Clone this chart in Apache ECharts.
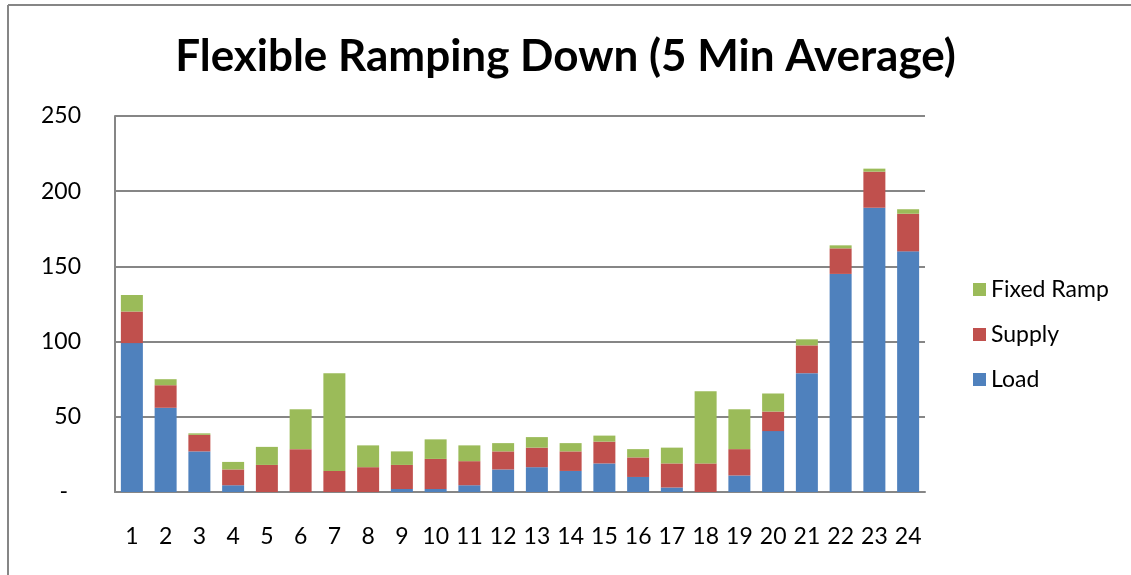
<!DOCTYPE html>
<html>
<head>
<meta charset="utf-8">
<title>Flexible Ramping Down</title>
<script src="https://cdn.jsdelivr.net/npm/echarts@6/dist/echarts.min.js"></script>
<style>
  html, body { margin: 0; padding: 0; background: #fff; }
  #chart { width: 1131px; height: 575px; }
</style>
</head>
<body>
<div id="chart"></div>
<script>
// hours 1..24
const hours = ['1','2','3','4','5','6','7','8','9','10','11','12','13','14','15','16','17','18','19','20','21','22','23','24']
const load = [99, 56, 27, 4.5, 0, 0, 0, 0, 2, 2, 4.5, 15, 16.5, 14, 19, 10, 3, 0, 11, 40.5, 79, 145, 189, 160]
const supply = [21, 15, 11, 10.5, 18, 28.5, 14, 16.5, 16, 20, 16, 12, 13, 13, 14.5, 13, 16, 19, 17.5, 13, 18.5, 17, 24, 25]
const fixedRamp = [11, 4, 1, 5, 12, 26.5, 65, 14.5, 9, 13, 10.5, 5.5, 7, 5.5, 4, 5.5, 10.5, 48, 26.5, 12, 4, 2, 2, 3]
const yTicks = [0, 50, 100, 150, 200, 250]

const FONT = 'Lato'
const GRAY = '#868686'
const LABEL_SIZE = 23

const chart = echarts.init(document.getElementById('chart'))

const option = {
    backgroundColor: '#fff',
    animation: false,
    title: {
        text: 'Flexible Ramping Down (5 Min Average)',
        left: 'center',
        top: 35,
        padding: [0, 0, 0, 30],
        textStyle: {
            fontFamily: FONT,
            fontWeight: 'bold',
            fontSize: 44,
            color: '#000'
        }
    },
    // outer chart border (top and left only are visible)
    graphic: [
        { type: 'line', shape: { x1: 8, y1: 5, x2: 1131, y2: 5 }, style: { stroke: GRAY, lineWidth: 2 } },
        { type: 'line', shape: { x1: 8, y1: 5, x2: 8, y2: 575 }, style: { stroke: GRAY, lineWidth: 2 } }
    ],
    grid: {
        left: 115,
        right: 206,
        top: 116,
        bottom: 83,
        containLabel: false
    },
    legend: {
        data: ['Fixed Ramp', 'Supply', 'Load'],
        orient: 'vertical',
        left: 968,
        top: 273,
        itemWidth: 13,
        itemHeight: 13,
        itemGap: 22,
        icon: 'rect',
        textStyle: {
            fontFamily: FONT,
            fontSize: LABEL_SIZE,
            color: '#000'
        }
    },
    xAxis: {
        type: 'category',
        data: hours,
        axisLine: { lineStyle: { color: GRAY, width: 2 } },
        axisTick: { show: false },
        axisLabel: {
            interval: 0,
            fontFamily: FONT,
            fontSize: LABEL_SIZE,
            color: '#000',
            margin: 33
        }
    },
    yAxis: {
        type: 'value',
        min: 0,
        max: 250,
        interval: 50,
        axisLine: { show: true, lineStyle: { color: GRAY, width: 2 } },
        axisTick: { show: false },
        splitLine: { lineStyle: { color: GRAY, width: 2 } },
        axisLabel: {
            fontFamily: FONT,
            fontSize: LABEL_SIZE,
            color: '#000',
            margin: 34,
            formatter: v => yTicks.indexOf(v) === 0 ? '{d|-}' : String(v),
            rich: {
                d: { fontFamily: FONT, fontSize: LABEL_SIZE, color: '#000', padding: [0, 13, 0, 0] }
            }
        }
    },
    series: [
        {
            name: 'Load',
            type: 'bar',
            stack: 'total',
            barWidth: 22,
            data: load,
            itemStyle: { color: '#4F81BD' }
        },
        {
            name: 'Supply',
            type: 'bar',
            stack: 'total',
            barWidth: 22,
            data: supply,
            itemStyle: { color: '#C0504D' }
        },
        {
            name: 'Fixed Ramp',
            type: 'bar',
            stack: 'total',
            barWidth: 22,
            data: fixedRamp,
            itemStyle: { color: '#9BBB59' }
        }
    ]
}

chart.setOption(option)
</script>
</body>
</html>
